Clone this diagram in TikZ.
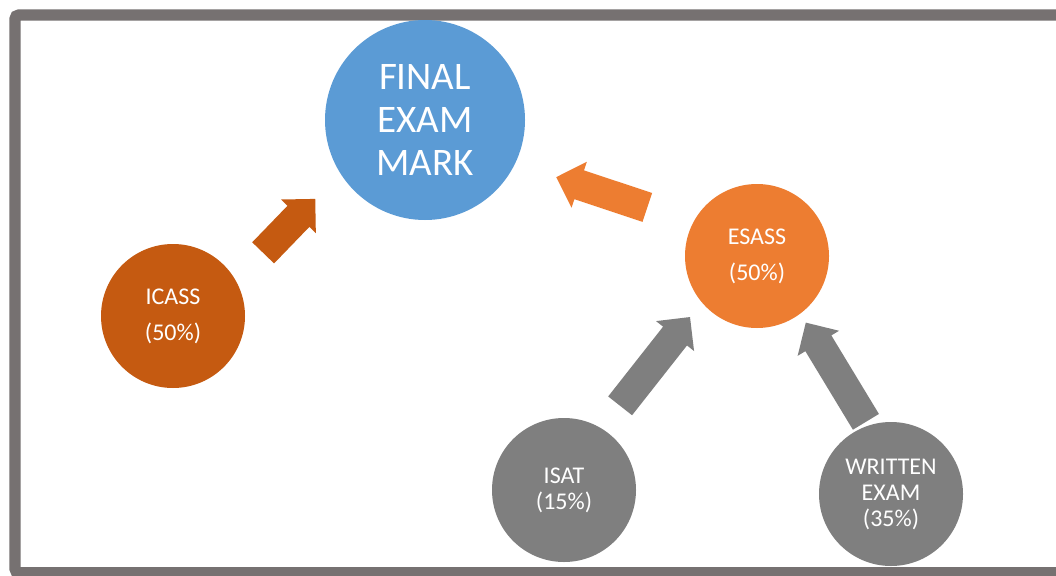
\documentclass[tikz,border=0pt]{standalone}
\usepackage{fontspec}
\setmainfont{Carlito}
\usepackage{tikz}
\usetikzlibrary{shapes.arrows}
\definecolor{framegray}{HTML}{767171}
\definecolor{markblue}{HTML}{5B9BD5}
\definecolor{rust}{HTML}{C55A11}
\definecolor{tangerine}{HTML}{ED7D31}
\definecolor{slate}{HTML}{7F7F7F}
\tikzset{
bigcircle/.style={circle,inner sep=0pt,minimum size=200pt,text=white,align=center,font=\fontsize{39}{43}\selectfont},
smallcircle/.style={circle,inner sep=0pt,minimum size=144pt,text=white,align=center,font=\fontsize{24}{26}\selectfont},
blockarrow/.style={single arrow,inner xsep=0pt,inner ysep=15pt,single arrow head extend=9pt,minimum width=48pt,anchor=tail}
}

\begin{document}
\begin{tikzpicture}[x=1pt,y=-1pt]
\useasboundingbox (0,0) rectangle (1056,575);
\fill[white] (0,0) rectangle (1056,575);
\draw[line width=11.3pt,framegray,rounded corners=4pt] (1070,572.7) -| (15,15) -- (1070,15);
\node[bigcircle,fill=markblue] (final) at (425,120) {FINAL\\EXAM\\MARK};
\node[smallcircle,fill=rust] (icass) at (173,316) {ICASS\\[10pt](50\%)};
\node[smallcircle,fill=tangerine] (esass) at (757,256) {ESASS\\[10pt](50\%)};
\node[smallcircle,fill=slate] (isat) at (564,490) {ISAT\\(15\%)};
\node[smallcircle,fill=slate] (written) at (891,494) {WRITTEN\\EXAM\\(35\%)};
\node[blockarrow,fill=rust,minimum height=75pt,rotate=46] (icasstofinal) at (263,253) {};
\node[blockarrow,fill=tangerine,minimum height=96pt,rotate=161.6] (esasstofinal) at (647.5,207.5) {};
\node[blockarrow,fill=slate,minimum height=113pt,rotate=51.8] (isattoesass) at (620,406) {};
\node[blockarrow,fill=slate,minimum height=116pt,rotate=121.2] (writtentoesass) at (866,422) {};
\end{tikzpicture}
\end{document}
